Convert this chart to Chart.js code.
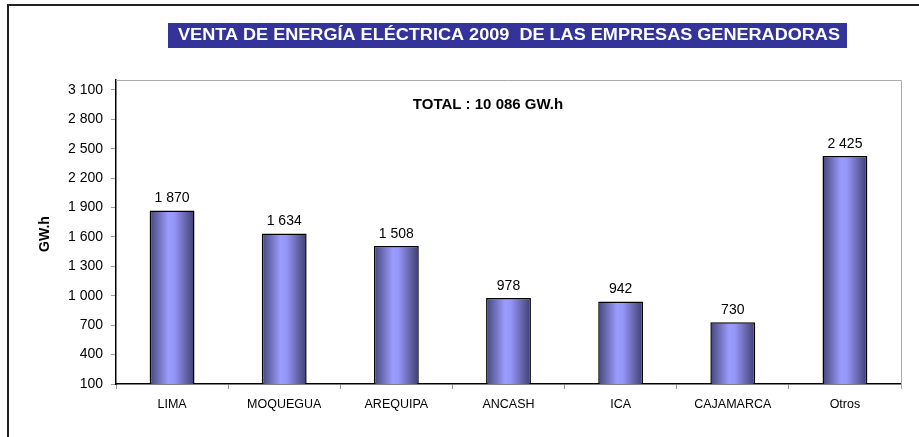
<!DOCTYPE html>
<html>
<head>
<meta charset="utf-8">
<script src="https://cdn.jsdelivr.net/npm/chart.js@4.4.1/dist/chart.umd.min.js"></script>
<style>
  html, body { margin: 0; padding: 0; background: #ffffff; }
  #wrap { position: relative; width: 919px; height: 437px; }
</style>
</head>
<body>
<div id="wrap"><canvas id="c" width="919" height="437"></canvas></div>
<script>
const categories = ['LIMA', 'MOQUEGUA', 'AREQUIPA', 'ANCASH', 'ICA', 'CAJAMARCA', 'Otros'];
const ventas = [1870, 1634, 1508, 978, 942, 730, 2425];
const yTicks = [100, 400, 700, 1000, 1300, 1600, 1900, 2200, 2500, 2800, 3100];
const yMin = 100;
const yMax = 3200;
const chartTitle = 'VENTA DE ENERGÍA ELÉCTRICA 2009  DE LAS EMPRESAS GENERADORAS';
const totalText = 'TOTAL : 10 086 GW.h';
const yTitle = 'GW.h';

const FONT = '"Liberation Sans", Arial, sans-serif';

function fmt(v) {
  return String(v).replace(/\B(?=(\d{3})+(?!\d))/g, ' ');
}

function barGradient(context) {
  const chart = context.chart;
  const xs = chart.scales.x;
  if (!xs || !chart.chartArea) return '#8888ee';
  const cx = xs.getPixelForValue(context.dataIndex);
  const cw = (chart.chartArea.right - chart.chartArea.left) / categories.length;
  const w = cw * 0.8 * 0.5;
  const g = chart.ctx.createLinearGradient(cx - w / 2, 0, cx + w / 2, 0);
  g.addColorStop(0, '#45457a');
  g.addColorStop(0.42, '#9c9cff');
  g.addColorStop(0.55, '#9696f8');
  g.addColorStop(1, '#3e3e6e');
  return g;
}

const decorPlugin = {
  id: 'decor',
  beforeDraw(chart) {
    const ctx = chart.ctx;
    ctx.save();
    ctx.fillStyle = '#ffffff';
    ctx.fillRect(0, 0, chart.width, chart.height);
    // outer frame (left and top)
    ctx.strokeStyle = '#222222';
    ctx.lineWidth = 2;
    ctx.beginPath();
    ctx.moveTo(8, 437);
    ctx.lineTo(8, 5);
    ctx.lineTo(919, 5);
    ctx.stroke();
    // title box
    ctx.fillStyle = '#333399';
    ctx.fillRect(168, 23, 679, 25);
    ctx.fillStyle = '#ffffff';
    ctx.font = 'bold 16px ' + FONT;
    ctx.textAlign = 'center';
    ctx.textBaseline = 'middle';
    const tw = ctx.measureText(chartTitle).width;
    const target = 662;
    ctx.translate(509, 36);
    ctx.scale(target / tw, 1);
    ctx.fillText(chartTitle, 0, 0);
    ctx.restore();
  },
  afterDraw(chart) {
    const ctx = chart.ctx;
    const a = chart.chartArea;
    ctx.save();
    // top and right plot border (gray)
    ctx.strokeStyle = '#aaaaaa';
    ctx.lineWidth = 1;
    ctx.beginPath();
    ctx.moveTo(a.left, a.top + 0.5);
    ctx.lineTo(a.right + 0.5, a.top + 0.5);
    ctx.lineTo(a.right + 0.5, a.bottom + 5);
    ctx.stroke();
    // total text
    ctx.fillStyle = '#000000';
    ctx.font = 'bold 15px ' + FONT;
    ctx.textAlign = 'center';
    ctx.textBaseline = 'middle';
    ctx.fillText(totalText, 488, 105);
    // y title
    ctx.font = 'bold 14px ' + FONT;
    ctx.translate(45, 234);
    ctx.rotate(-Math.PI / 2);
    ctx.fillText(yTitle, 0, 0);
    ctx.restore();
    // data labels
    ctx.save();
    ctx.font = '14px ' + FONT;
    ctx.fillStyle = '#000000';
    ctx.textAlign = 'center';
    ctx.textBaseline = 'bottom';
    const meta = chart.getDatasetMeta(0);
    meta.data.forEach((bar, i) => {
      ctx.fillText(fmt(ventas[i]), bar.x, bar.y - 5);
    });
    ctx.restore();
  }
};

new Chart(document.getElementById('c'), {
  type: 'bar',
  data: {
    labels: categories,
    datasets: [{
      data: ventas,
      backgroundColor: barGradient,
      borderColor: '#000000',
      borderWidth: 1.5,
      borderSkipped: false,
      categoryPercentage: 0.8,
      barPercentage: 0.5
    }]
  },
  options: {
    responsive: false,
    animation: false,
    devicePixelRatio: 1,
    layout: { padding: { left: 10, right: 18, top: 80, bottom: 0 } },
    plugins: {
      legend: { display: false },
      tooltip: { enabled: false },
      title: { display: false }
    },
    scales: {
      x: {
        offset: true,
        grid: {
          offset: true,
          drawOnChartArea: false,
          drawTicks: true,
          tickLength: 5,
          color: '#999999'
        },
        border: { display: true, color: '#000000', width: 1.5 },
        ticks: {
          color: '#000000',
          font: { family: FONT, size: 12.5 },
          padding: 8,
          maxRotation: 0,
          autoSkip: false
        },
        afterFit(s) { s.height = 53; }
      },
      y: {
        min: yMin,
        max: yMax,
        afterBuildTicks(s) { s.ticks = yTicks.map(v => ({ value: v })); },
        grid: {
          drawOnChartArea: false,
          drawTicks: true,
          tickLength: 5,
          color: '#999999'
        },
        border: { display: true, color: '#000000', width: 1.5 },
        ticks: {
          color: '#000000',
          font: { family: FONT, size: 14 },
          padding: 8,
          callback: (v) => fmt(v)
        },
        afterFit(s) { s.width = 106; }
      }
    }
  },
  plugins: [decorPlugin]
});
</script>
</body>
</html>
